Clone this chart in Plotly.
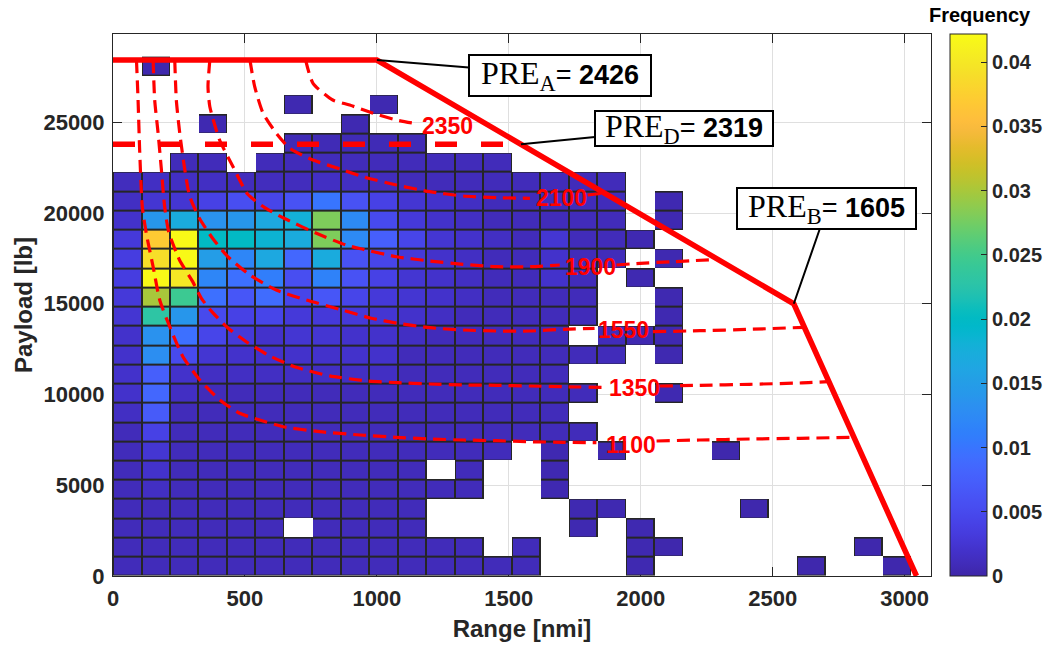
import plotly.graph_objects as go

# ---------------- histogram grid (bin sizes) ----------------
range_bin_width = 108      # nmi
payload_bin_width = 1060   # lb
n_range_bins = 28
n_payload_bins = 27
range_bin_centers = [range_bin_width * (i + 0.5) for i in range(n_range_bins)]
payload_bin_centers = [payload_bin_width * (j + 0.5) for j in range(n_payload_bins)]

# frequency x 1000, rows = payload bins (bottom -> top), cols = range bins (left -> right); 0 = empty bin
freq_x1000 = [
    [1,1,1,1,1,1,1,1,1,1,1,1,1,1,1, 0,0,0,0.5, 0,0,0,0,0, 0.3,0,0,0.3],
    [1,1,1,1,1,1,1,1,1,1,1,1,1, 0, 1, 0,0,0, 0.5,0.3, 0,0,0,0,0,0, 0.3,0],
    [1,1,1,1,1,1, 0, 1,1,1,1, 0,0,0,0,0, 0.5,0,0.5, 0,0,0,0,0,0,0,0,0],
    [1,1,1,1,1,1,1,1,1,1,1, 0,0,0,0,0, 0.5,0.5, 0,0,0,0, 0.3, 0,0,0,0,0],
    [1,1.5,1,1,1,1,1,1,1,1,1,1,1, 0,0, 0.5, 0,0,0,0,0,0,0,0,0,0,0,0],
    [1,2,1,1,1,1,1,1,1,1,1, 0, 1, 0,0, 0.5, 0,0,0,0,0,0,0,0,0,0,0,0],
    [1,2.5,1,1,1,1,1,1,1,1,1,1,1,1, 0, 0.5, 0, 0.5, 0,0,0, 0.3, 0,0,0,0,0,0],
    [1,4,1,1,1,1,1,1,1,1,1,1,1,1,1,1,1, 0,0,0,0,0,0,0,0,0,0,0],
    [1.5,7,1,1,1,1,1,1,1,1,1,1,1,1,1,1, 0,0,0,0,0,0,0,0,0,0,0,0],
    [2,8.5,1.5,1,1,1,1,1,1,1,1,1,1,1,1,1,1, 0,0, 0.5, 0,0,0,0,0,0,0,0],
    [2,7.5,2,1.5,1.5,1.5,1.5,1.5,1.5,1.5,1,1,1,1,1,1, 0,0,0,0,0,0,0,0,0,0,0,0],
    [2,13,5,2.5,2,2,2,2,2,2,1,1,1,1,1,1,1,1, 0, 0.5, 0,0,0,0,0,0,0,0],
    [2,13.5,9.5,4.5,3,2,2.5,2.5,2,2,1.5,1,1,1,1,1, 0, 1, 0.5,0.5, 0,0,0,0,0,0,0,0],
    [2.5,23,14,5,4,4.5,3,3,3,2.5,2,1.5,1,1,1,1,1, 0,0, 0.5, 0,0,0,0,0,0,0,0],
    [3,30,24.5,9.5,6.5,9,4.5,6.5,4.5,3,2.5,2,1.5,1,1,1,1, 0,0, 0.5, 0,0,0,0,0,0,0,0],
    [3.5,42,40,12,9.5,11,5.5,11.5,6,4,2.5,2,1.5,1,1,2,1, 0, 0.5, 0,0,0,0,0,0,0,0,0],
    [3.5,39,42,15,12,16.5,8.5,17,6,4.5,3,2,1.5,1,1,2,1,1, 0, 0.5, 0,0,0,0,0,0,0,0],
    [3,37,42,20,20,18.5,17,28,12.5,7.5,4.5,2.5,2,1.5,1,2.5,1,1,0.5, 0,0,0,0,0,0,0,0,0],
    [2,14,17,13.5,14,16.5,18,28,12.5,5,3,2,1.5,1,1,1,1,1, 0, 0.5, 0,0,0,0,0,0,0,0],
    [1.5,2.5,2.5,4,5.5,4.5,6,10,6,4,2.5,2,1.5,1,1,1,1,1, 0, 0.5, 0,0,0,0,0,0,0,0],
    [1.2,1.5,1.5,1.5,1.2,1.2,1.2,1.5,1.5,1.2,1,1,1,1,1,1,1,1, 0,0,0,0,0,0,0,0,0,0],
    [0,0,1,1,0,1,1,1,1,1,1,1,1,1, 0,0,0,0,0,0,0,0,0,0,0,0,0,0],
    [0,0,0,0,0,0,0.8,0.8,0.8,0.8,0.8, 0,0,0,0,0,0,0,0,0,0,0,0,0,0,0,0,0],
    [0,0,0,0.5,0,0,0,0,0.5, 0,0,0,0,0,0,0,0,0,0,0,0,0,0,0,0,0,0,0],
    [0,0,0,0,0,0,0.5,0,0,0.5, 0,0,0,0,0,0,0,0,0,0,0,0,0,0,0,0,0,0],
    [0]*28,
    [0,0.3, 0,0,0,0,0,0,0,0,0,0,0,0,0,0,0,0,0,0,0,0,0,0,0,0,0,0],
]
freq_max = 0.0422

# ---------------- payload-range envelope ----------------
envelope_range = [0, 1000, 2580, 3045]
envelope_payload = [28430, 28430, 15000, 0]

pre_d_range = [0, 1546]
pre_d_payload = [23790, 23790]

# ---------------- PRE contours (None = break for the label) ----------------
c1100_range = [89, 95, 101, 111, 126, 152, 177, 215, 265, 329, 405, 480, 556, 645, 784, 936, 1074, 1201, 1327, 1453, 1580, 1706, 1832, None, 2060, 2224, 2414, 2603, 2806]
c1100_payload = [28430, 26229, 23474, 20350, 18884, 17043, 15209, 13737, 12084, 10800, 9698, 8965, 8596, 8227, 7951, 7770, 7643, 7549, 7494, 7455, 7400, 7367, 7345, None, 7439, 7494, 7549, 7588, 7643]

c1350_range = [152, 158, 171, 183, 195, 211, 252, 302, 335, 378, 441, 505, 587, 688, 821, 960, 1080, 1200, 1327, 1453, 1580, 1706, 1857, None, 2072, 2224, 2413, 2603, 2711]
c1350_payload = [28430, 26229, 24394, 22460, 20440, 18970, 17413, 16220, 15300, 14510, 13600, 12910, 12180, 11530, 11030, 10750, 10651, 10580, 10525, 10508, 10469, 10431, 10398, None, 10469, 10508, 10563, 10635, 10707]

c1550_range = [234, 240, 253, 271, 290, 328, 378, 435, 518, 619, 732, 858, 979, 1080, 1201, 1327, 1453, 1580, 1706, 1825, None, 2046, 2224, 2413, 2618]
c1550_payload = [28430, 26229, 24394, 22500, 20950, 19700, 18600, 17600, 16590, 15760, 15210, 14700, 14200, 13925, 13682, 13555, 13500, 13500, 13594, 13649, None, 13462, 13517, 13594, 13703]

c1900_range = [367, 360, 367, 404, 455, 510, 575, 650, 771, 883, 948, 1074, 1201, 1327, 1453, 1580, 1693, None, 1908, 1997, 2122, 2292]
c1900_payload = [28430, 26962, 25860, 24025, 22554, 21050, 20300, 19700, 18884, 18239, 18002, 17594, 17357, 17176, 17043, 17043, 17137, None, 17137, 17230, 17319, 17451]

c2100_range = [519, 537, 569, 619, 670, 758, 872, 948, 1074, 1201, 1327, 1453, 1580, None, 1799, 1864]
c2100_payload = [28430, 26962, 25496, 24394, 23567, 22923, 22372, 22003, 21545, 21176, 20939, 20845, 20812, None, 20994, 21104]

c2350_range = [730, 758, 833, 897, 986, 1074, 1156]
c2350_payload = [28430, 27149, 26229, 25953, 25496, 25127, 24906]

contour_labels = ["2350", "2100", "1900", "1550", "1350", "1100"]
label_range = [1267, 1700, 1810, 1933, 1978, 1962]
label_payload = [24785, 20829, 17043, 13583, 10343, 7218]

# PRE callouts
pre_names = ["A", "D", "B"]
pre_values = ["2426", "2319", "1605"]
pre_point_range = [1000, 1546, 2580]
pre_point_payload = [28430, 23790, 15000]

x_ticks = [0, 500, 1000, 1500, 2000, 2500, 3000]
y_ticks = [0, 5000, 10000, 15000, 20000, 25000]
cbar_ticks = [0, 0.005, 0.01, 0.015, 0.02, 0.025, 0.03, 0.035, 0.04]

# ---------------- styles ----------------
parula = [
    (0.2422,0.1504,0.6603),(0.2504,0.1650,0.7076),(0.2578,0.1818,0.7511),(0.2647,0.1978,0.7952),
    (0.2706,0.2147,0.8364),(0.2751,0.2342,0.8710),(0.2783,0.2559,0.8991),(0.2803,0.2782,0.9221),
    (0.2813,0.3006,0.9414),(0.2810,0.3228,0.9579),(0.2795,0.3447,0.9717),(0.2760,0.3667,0.9829),
    (0.2699,0.3892,0.9906),(0.2602,0.4123,0.9952),(0.2440,0.4358,0.9988),(0.2206,0.4603,0.9973),
    (0.1963,0.4847,0.9892),(0.1834,0.5074,0.9798),(0.1786,0.5289,0.9682),(0.1764,0.5499,0.9520),
    (0.1687,0.5703,0.9359),(0.1540,0.5902,0.9218),(0.1460,0.6091,0.9079),(0.1380,0.6276,0.8973),
    (0.1248,0.6459,0.8883),(0.1113,0.6635,0.8763),(0.0952,0.6798,0.8598),(0.0689,0.6948,0.8394),
    (0.0297,0.7082,0.8163),(0.0036,0.7203,0.7917),(0.0067,0.7312,0.7660),(0.0433,0.7411,0.7394),
    (0.0964,0.7500,0.7120),(0.1408,0.7584,0.6842),(0.1717,0.7670,0.6554),(0.1938,0.7758,0.6251),
    (0.2161,0.7843,0.5923),(0.2470,0.7918,0.5567),(0.2906,0.7973,0.5188),(0.3406,0.8008,0.4789),
    (0.3909,0.8029,0.4354),(0.4456,0.8024,0.3909),(0.5044,0.7993,0.3480),(0.5616,0.7942,0.3045),
    (0.6174,0.7876,0.2612),(0.6720,0.7793,0.2227),(0.7242,0.7698,0.1910),(0.7738,0.7598,0.1646),
    (0.8203,0.7498,0.1535),(0.8634,0.7406,0.1596),(0.9035,0.7330,0.1774),(0.9393,0.7288,0.2100),
    (0.9728,0.7298,0.2394),(0.9956,0.7434,0.2371),(0.9970,0.7659,0.2199),(0.9952,0.7893,0.2028),
    (0.9892,0.8136,0.1885),(0.9786,0.8386,0.1766),(0.9676,0.8639,0.1643),(0.9610,0.8890,0.1537),
    (0.9597,0.9135,0.1423),(0.9628,0.9373,0.1265),(0.9691,0.9606,0.1064),(0.9769,0.9839,0.0805),
]
n = len(parula)
parula_scale = [[k / (n - 1), "rgb(%d,%d,%d)" % (round(r*255), round(g*255), round(b*255))]
                for k, (r, g, b) in enumerate(parula)]

DARK = "#262626"
RED = "#ff0000"
SANS = "Liberation Sans"

z = [[(v / 1000.0 if v else None) for v in row] for row in freq_x1000]
z_edge = [[(1 if v else None) for v in row] for row in freq_x1000]

fig = go.Figure()

# edge layer (dark outlines around every non-empty bin)
fig.add_trace(go.Heatmap(
    x=range_bin_centers, y=payload_bin_centers, z=z_edge,
    colorscale=[[0, DARK], [1, DARK]], showscale=False, hoverinfo="skip",
))
# bin faces
fig.add_trace(go.Heatmap(
    x=range_bin_centers, y=payload_bin_centers, z=z,
    zmin=0, zmax=freq_max, colorscale=parula_scale, xgap=2, ygap=2,
    colorbar=dict(
        x=1.0229, xanchor="left", xpad=0, ypad=0, y=0.5, yanchor="middle",
        len=1, lenmode="fraction", thickness=37,
        outlinewidth=1, outlinecolor=DARK,
        tickvals=cbar_ticks, ticks="inside", ticklen=6, tickcolor=DARK,
        tickfont=dict(family=SANS, size=20, color=DARK, weight="bold"),
    ),
))

contours = [(c2350_range, c2350_payload), (c2100_range, c2100_payload),
            (c1900_range, c1900_payload), (c1550_range, c1550_payload),
            (c1350_range, c1350_payload), (c1100_range, c1100_payload)]
for cr, cp in contours:
    fig.add_trace(go.Scatter(x=cr, y=cp, mode="lines", connectgaps=False,
                             line=dict(color=RED, width=3.2, dash="13px,7px", shape="spline", smoothing=0.6),
                             hoverinfo="skip", showlegend=False))

fig.add_trace(go.Scatter(x=pre_d_range, y=pre_d_payload, mode="lines",
                         line=dict(color=RED, width=5.5, dash="22px,24px"),
                         hoverinfo="skip", showlegend=False))
fig.add_trace(go.Scatter(x=envelope_range, y=envelope_payload, mode="lines",
                         line=dict(color=RED, width=5.5),
                         hoverinfo="skip", showlegend=False))

annotations = []
for t, xr, yp in zip(contour_labels, label_range, label_payload):
    annotations.append(dict(x=xr, y=yp, xref="x", yref="y", text=t, showarrow=False,
                            font=dict(family=SANS, size=23, color=RED, weight="bold"),
                            xanchor="center", yanchor="middle"))

# callout boxes (offsets in px of box centre from the pointed location)
box_offsets = [(183, 15), (163, -16), (33, -95)]
box_sizes = [(178, 37), (174, 31), (175, 37)]
for name, val, xr, yp, (ax, ay), (w, h) in zip(pre_names, pre_values, pre_point_range,
                                                pre_point_payload, box_offsets, box_sizes):
    txt = ("<span style='font-family:Liberation Serif;font-size:32px;font-weight:normal'>PRE<sub>%s</sub></span>"
           "<span style='font-weight:normal'>= </span><b>%s</b>" % (name, val))
    annotations.append(dict(x=xr, y=yp, xref="x", yref="y", text=txt,
                            showarrow=True, arrowhead=0, arrowwidth=2, arrowcolor="black",
                            ax=ax, ay=ay, standoff=0, startstandoff=0,
                            width=w, height=h, borderpad=1, borderwidth=2,
                            bordercolor="black", bgcolor="white",
                            font=dict(family=SANS, size=27, color="black")))

annotations.append(dict(x=1.0599, y=1.0351, xref="paper", yref="paper", text="Frequency",
                        showarrow=False, xanchor="center", yanchor="middle",
                        font=dict(family=SANS, size=20, color="black", weight="bold")))

axis_common = dict(
    showline=True, linecolor=DARK, linewidth=1, mirror="ticks",
    ticks="inside", ticklen=9, tickcolor=DARK, tickwidth=1,
    showgrid=True, gridcolor="#dfdfdf", gridwidth=1, zeroline=False,
    tickfont=dict(family=SANS, size=22, color=DARK, weight="bold"),
    tickformat="d", layer="below traces",
)

fig.update_layout(
    width=1057, height=649,
    margin=dict(l=113, r=126, t=34, b=73, autoexpand=False),
    paper_bgcolor="white", plot_bgcolor="white",
    xaxis=dict(range=[0, 3100], tickvals=x_ticks, ticklabelstandoff=3,
               title=dict(text="Range [nmi]", standoff=9,
                          font=dict(family=SANS, size=24, color=DARK, weight="bold")),
               **axis_common),
    yaxis=dict(range=[0, 29866], tickvals=y_ticks, ticklabelstandoff=3,
               title=dict(text="Payload [lb]", standoff=4,
                          font=dict(family=SANS, size=24, color=DARK, weight="bold")),
               **axis_common),
    annotations=annotations,
    showlegend=False,
)

fig.write_html("out.html")
